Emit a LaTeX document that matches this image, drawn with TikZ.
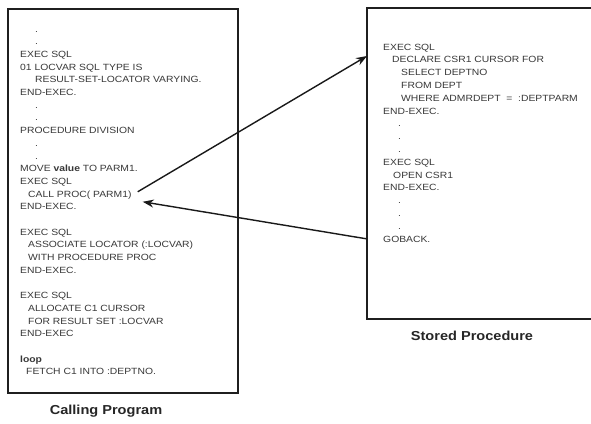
\documentclass[tikz,border=0pt]{standalone}
\usepackage{fontspec}
\setmainfont{Liberation Sans}
\newfontfamily\listingfont[FakeStretch=1.15]{Liberation Sans}
\newfontfamily\captionfont[FakeStretch=1.12]{Liberation Sans}
\usetikzlibrary{arrows.meta}
\begin{document}
\begin{tikzpicture}[x=1pt,y=-1pt,
  code/.style={anchor=base west,inner sep=0pt,font=\listingfont\fontsize{9}{10}\selectfont,text=black!78},
  panel/.style={draw=black!88,line width=1.7pt,anchor=north west,inner sep=0pt},
  frame/.style={draw=black!88,line width=1.7pt},
  caption/.style={font=\captionfont\bfseries\fontsize{13}{15}\selectfont,text=black!85},
  flow/.style={draw=black!90,line width=1.4pt,-{Stealth[length=11pt,width=8pt]}}]
\useasboundingbox (0,0) rectangle (591,423);
\fill[white] (0,0) rectangle (591,423);

% the two program panels (the procedure panel is open on its right side)
\node[panel,minimum width=230pt,minimum height=384pt] (callbox) at (7,8) {};
\node[panel,draw=none,minimum width=223pt,minimum height=309pt] (procbox) at (367,8) {};
\draw[frame] (procbox.north east) -- (procbox.north west) -- (procbox.south west) -- (procbox.south east);

% calling program listing
\node[code] (c0)  at (35,32)    {.};
\node[code] (c1)  at (35,44.7)  {.};
\node[code] (c2)  at (20,57.4)  {EXEC SQL};
\node[code] (c3)  at (20,70.1)  {01 LOCVAR SQL TYPE IS};
\node[code] (c4)  at (35,82.8)  {RESULT-SET-LOCATOR VARYING.};
\node[code] (c5)  at (20,95.5)  {END-EXEC.};
\node[code] (c6)  at (35,108.2) {.};
\node[code] (c7)  at (35,120.9) {.};
\node[code] (c8)  at (20,133.6) {PROCEDURE DIVISION};
\node[code] (c9)  at (35,146.3) {.};
\node[code] (c10) at (35,159)   {.};
\node[code] (c11) at (20,171.7) {MOVE \textbf{value} TO PARM1.};
\node[code] (c12) at (20,184.4) {EXEC SQL};
\node[code] (callproc) at (28,197.1) {CALL PROC( PARM1)};
\node[code] (c14) at (20,209.8) {END-EXEC.};
\node[code] (c16) at (20,235.2) {EXEC SQL};
\node[code] (c17) at (28,247.9) {ASSOCIATE LOCATOR (:LOCVAR)};
\node[code] (c18) at (28,260.6) {WITH PROCEDURE PROC};
\node[code] (c19) at (20,273.3) {END-EXEC.};
\node[code] (c21) at (20,298.7) {EXEC SQL};
\node[code] (c22) at (28,311.4) {ALLOCATE C1 CURSOR};
\node[code] (c23) at (28,324.1) {FOR RESULT SET :LOCVAR};
\node[code] (c24) at (20,336.8) {END-EXEC};
\node[code] (c26) at (20,362.2) {\textbf{loop}};
\node[code] (c27) at (26,374.9) {FETCH C1 INTO :DEPTNO.};

% stored procedure listing
\node[code] (p0)  at (383,50)    {EXEC SQL};
\node[code] (p1)  at (392,62.8)  {DECLARE CSR1 CURSOR FOR};
\node[code] (p2)  at (401,75.6)  {SELECT DEPTNO};
\node[code] (p3)  at (401,88.4)  {FROM DEPT};
\node[code] (p4)  at (401,101.2) {WHERE ADMRDEPT \ = \ :DEPTPARM};
\node[code] (p5)  at (383,114)   {END-EXEC.};
\node[code] (p6)  at (398,126.8) {.};
\node[code] (p7)  at (398,139.6) {.};
\node[code] (p8)  at (398,152.4) {.};
\node[code] (p9)  at (383,165.2) {EXEC SQL};
\node[code] (p10) at (393,178)   {OPEN CSR1};
\node[code] (p11) at (383,190.8) {END-EXEC.};
\node[code] (p12) at (398,203.6) {.};
\node[code] (p13) at (398,216.4) {.};
\node[code] (p14) at (398,229.2) {.};
\node[code] (goback) at (383,242) {GOBACK.};

% captions
\node[caption] (callcap) at (106,411) {Calling Program};
\node[caption] (proccap) at (472,336) {Stored Procedure};

% call and return
\coordinate (callout) at ([shift={(6,-3)}]callproc.east);
\coordinate (callin)  at ([shift={(11,7)}]callproc.east);
\coordinate (entry)   at (procbox.west |- 0,56);
\coordinate (ret)     at (procbox.west |- goback.west);
\draw[flow] (callout) -- (entry);
\draw[flow] (ret) -- (callin);
\end{tikzpicture}
\end{document}
